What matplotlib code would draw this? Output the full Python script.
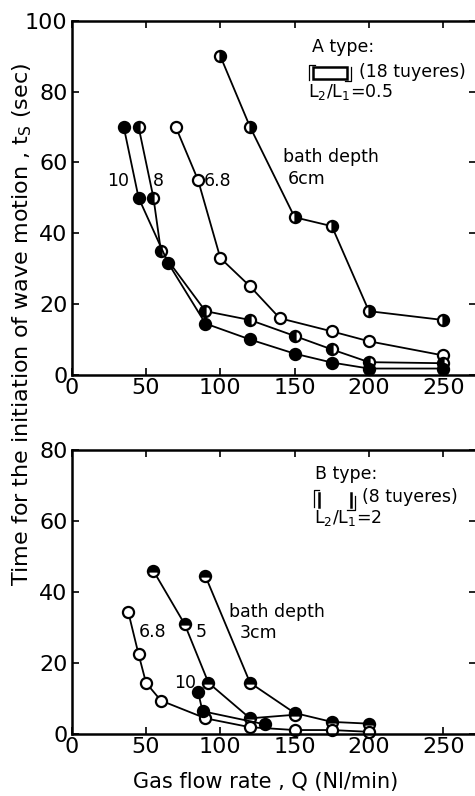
import matplotlib
matplotlib.use('Agg')
import matplotlib.pyplot as plt
from matplotlib.patches import Rectangle

# --- A type (18 tuyeres), L2/L1 = 0.5 ---
q_a6 = [100, 120, 150, 175, 200, 250]
t_a6 = [90, 70, 44.5, 42, 18, 15.5]
q_a68 = [70, 85, 100, 120, 140, 175, 200, 250]
t_a68 = [70, 55, 33, 25, 16, 12.3, 9.5, 5.5]
q_a8 = [45, 55, 60, 90, 120, 150, 175, 200, 250]
t_a8 = [70, 50, 35, 18, 15.5, 11, 7.2, 3.6, 3.3]
q_a10 = [35, 45, 65, 90, 120, 150, 175, 200, 250]
t_a10 = [70, 50, 31.5, 14.5, 10, 6, 3.5, 1.8, 1.8]

# --- B type (8 tuyeres), L2/L1 = 2 ---
q_b3 = [90, 120, 150, 175, 200]
t_b3 = [44.5, 14.5, 6, 3.5, 3]
q_b5 = [55, 76, 92, 120, 150]
t_b5 = [46, 31, 14.5, 4.5, 5.5]
q_b68 = [38, 45, 50, 60, 90, 120, 150, 175, 200]
t_b68 = [34.5, 22.5, 14.5, 9.5, 4.5, 2, 1.2, 1.2, 0.7]
q_b10 = [85, 88, 130]
t_b10 = [12, 6.5, 2.8]

x_ticks = [0, 50, 100, 150, 200, 250]

plt.rcParams['font.family'] = ['DejaVu Sans']


def series(ax, q, t, fill):
    """Нарисовать одну кривую с кружками."""
    kw = dict(color='black', lw=1.3, marker='o', markersize=8,
              markeredgecolor='black', markeredgewidth=1.6, clip_on=False)
    if fill == 'full':
        kw.update(markerfacecolor='black')
    elif fill == 'none':
        kw.update(markerfacecolor='white')
    else:
        kw.update(markerfacecolor='black', fillstyle=fill,
                  markerfacecoloralt='white')
    ax.plot(q, t, **kw)


def setup(ax, ymax):
    """Оси, засечки внутрь, верхние и правые засечки."""
    ax.set_xlim(0, 272)
    ax.set_ylim(0, ymax)
    ax.set_xticks(x_ticks)
    ax.set_yticks(range(0, ymax + 1, 20))
    ax.spines['right'].set_visible(False)
    for s in ('left', 'bottom', 'top'):
        ax.spines[s].set_linewidth(1.8)
    ax.tick_params(direction='in', top=True, right=True, length=5,
                   width=1.2, labelsize=16, pad=2)
    ax.tick_params(axis='y', pad=3)


fig = plt.figure(figsize=(4.75, 7.96), dpi=100)
ax1 = fig.add_axes([0.151, 0.529, 0.851, 0.445])
ax2 = fig.add_axes([0.151, 0.0775, 0.851, 0.357])

setup(ax1, 100)
setup(ax2, 80)

# Верхний график
series(ax1, q_a6, t_a6, 'right')
series(ax1, q_a68, t_a68, 'none')
series(ax1, q_a8, t_a8, 'left')
series(ax1, q_a10, t_a10, 'full')

fs = 12.5
ax1.text(162, 92.5, 'A type:', fontsize=fs, va='center')
ax1.text(193, 85.5, '(18 tuyeres)', fontsize=fs, va='center')
ax1.text(159, 80, 'L$_2$/L$_1$=0.5', fontsize=fs, va='center')
ax1.text(142, 61.5, 'bath depth', fontsize=fs, va='center')
ax1.text(145.5, 55.3, '6cm', fontsize=fs, va='center')
ax1.text(24, 54.8, '10', fontsize=fs, va='center')
ax1.text(54.5, 54.8, '8', fontsize=fs, va='center')
ax1.text(89, 54.8, '6.8', fontsize=fs, va='center')

# значок A type: прямоугольник с уголками
tr = ax1.transAxes
ax1.add_patch(Rectangle((0.598, 0.836), 0.082, 0.034, transform=tr,
                        fill=False, lw=1.8, ec='black'))
ax1.plot([0.588, 0.588, 0.603], [0.832, 0.876, 0.876], color='black', lw=0.9,
         transform=tr)
ax1.plot([0.676, 0.691, 0.691], [0.829, 0.829, 0.868], color='black', lw=0.9,
         transform=tr)

# Нижний график
series(ax2, q_b3, t_b3, 'top')
series(ax2, q_b5, t_b5, 'top')
series(ax2, q_b68, t_b68, 'none')
series(ax2, q_b10, t_b10, 'full')

ax2.text(163.5, 73.2, 'B type:', fontsize=fs, va='center')
ax2.text(195, 66.8, '(8 tuyeres)', fontsize=fs, va='center')
ax2.text(163, 61, 'L$_2$/L$_1$=2', fontsize=fs, va='center')
ax2.text(106, 34.4, 'bath depth', fontsize=fs, va='center')
ax2.text(112.7, 28.5, '3cm', fontsize=fs, va='center')
ax2.text(45, 28.8, '6.8', fontsize=fs, va='center')
ax2.text(83.5, 28.8, '5', fontsize=fs, va='center')
ax2.text(68.6, 14.4, '10', fontsize=fs, va='center')

# значок B type: две вертикальные черты с уголками
tr = ax2.transAxes
ax2.plot([0.600, 0.600, 0.612], [0.80, 0.86, 0.86], color='black', lw=0.9, transform=tr)
ax2.plot([0.612, 0.612], [0.80, 0.85], color='black', lw=1.8, transform=tr)
ax2.plot([0.690, 0.690], [0.80, 0.85], color='black', lw=1.8, transform=tr)
ax2.plot([0.680, 0.700, 0.700], [0.79, 0.79, 0.84], color='black', lw=0.9, transform=tr)

fig.text(0.046, 0.592,
         'Time for the initiation of wave motion , $\\mathregular{t_S}$ (sec)',
         rotation=90, ha='center', va='center', fontsize=16)
fig.text(0.56, 0.018, 'Gas flow rate , Q (Nl/min)', ha='center', va='center',
         fontsize=15)

fig.savefig('out.png', dpi=100)
